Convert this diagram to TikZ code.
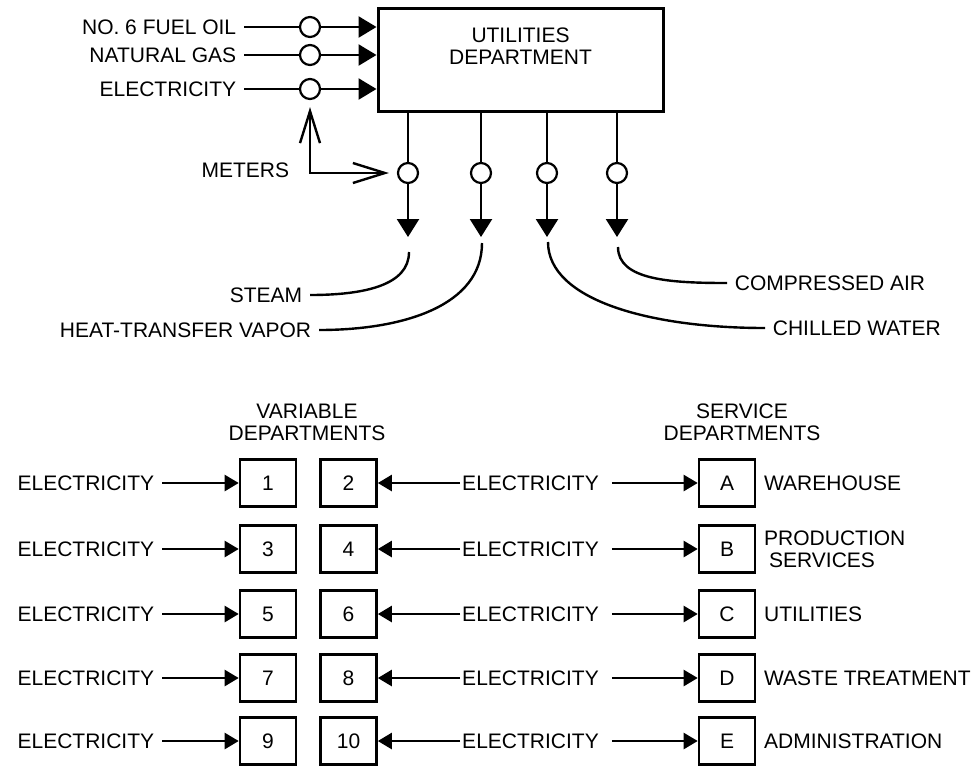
\documentclass[tikz,border=0pt]{standalone}
\usepackage{fontspec}
\setmainfont{Liberation Sans}
\usetikzlibrary{arrows.meta,positioning}

\begin{document}
\begin{tikzpicture}[x=0.5pt,y=-0.5pt,line width=1.2pt,font=\fontsize{10.5}{11}\selectfont,
		meter/.style={circle,draw,line width=1.1pt,minimum size=10pt,inner sep=0pt},
		dept/.style={draw,line width=1.3pt,minimum width=28pt,minimum height=23.5pt,inner sep=0pt},
		feed/.style={-{Triangle[length=9pt,width=10.5pt]}},
		outflow/.style={-{Triangle[length=9pt,width=11pt]}},
		elec/.style={-{Triangle[length=7pt,width=8pt]}},
		barb/.style={{Straight Barb[length=16pt,width=10pt]}-{Straight Barb[length=16pt,width=10pt]}}]
	\useasboundingbox (0,0) rectangle (978,767);
	% utilities department and its meters
	\node [draw,line width=1.5pt,minimum width=142.5pt,minimum height=51.5pt] (util) at (520.5,59.5) {};
	\node [align=center] (utiltext) at (520.5,46) {UTILITIES\\DEPARTMENT};
	\foreach \n/\y/\txt in {1/27/NO. 6 FUEL OIL,2/55/NATURAL GAS,3/89/ELECTRICITY}{
		\node [anchor=east] (in\n) at (244,\y) {\txt};
		\node [meter] (m\n) at (310,\y) {};
		\draw (in\n.east) -- (m\n);
		\draw [feed] (m\n) -- (m\n -| util.west);
	}
	\foreach \n/\x in {1/408,2/481,3/547,4/617}{
		\node [meter] (q\n) at (\x,173) {};
		\coordinate (t\n) at (\x,237);
		\draw (q\n |- util.south) -- (q\n);
		\draw [outflow] (q\n) -- (t\n);
	}
	\node [anchor=east] (meters) at (297,170) {METERS};
	\coordinate (bend) at (m3 |- q1);
	\draw [barb,shorten <=3.5pt,shorten >=4pt] (m3) -- (bend) -- (q1);
	% products
	\node [anchor=east] (steam) at (310,295) {STEAM};
	\node [anchor=east] (vapor) at (319,330) {HEAT-TRANSFER VAPOR};
	\node [anchor=west] (air) at (727,283) {COMPRESSED AIR};
	\node [anchor=west] (water) at (765,328) {CHILLED WATER};
	\coordinate (c1) at (409,252);
	\coordinate (c2) at (482,243);
	\coordinate (c3) at (548,242);
	\coordinate (c4) at (618,247);
	\draw (c1) .. controls (409,285) and (365,295) .. (steam.east);
	\draw (c2) .. controls (482,305) and (405,330) .. (vapor.east);
	\draw (c3) .. controls (548,300) and (650,328) .. (water.west);
	\draw (c4) .. controls (618,280) and (670,283) .. (air.west);
	% departments
	\node [align=center] (varhead) at (307,422) {VARIABLE\\DEPARTMENTS};
	\node [align=center] (serhead) at (742,422) {SERVICE\\DEPARTMENTS};
	\foreach \r/\y/\a/\b/\s/\lab in {1/483/1/2/A/WAREHOUSE,2/549/3/4/B/PRODUCTION\\\hspace{2.5pt}SERVICES,
			3/614/5/6/C/UTILITIES,4/678/7/8/D/WASTE TREATMENT,5/741/9/10/E/ADMINISTRATION}{
		\node [dept] (v\a) at (268,\y) {\a};
		\node [dept] (v\b) at (348.5,\y) {\b};
		\node [dept] (s\s) at (727,\y) {\s};
		\node [anchor=east] (left\r) at (162,\y) {ELECTRICITY};
		\node [inner xsep=0.5pt] (mid\r) at (530.5,\y) {ELECTRICITY};
		\node [align=left,right=0pt of s\s] (name\r) {\lab};
		\draw [elec] (left\r.east) -- (v\a);
		\draw [elec] (mid\r.west) -- (v\b);
		\draw [elec,shorten <=5.5pt] (mid\r.east) -- (s\s);
	}
\end{tikzpicture}
\end{document}
